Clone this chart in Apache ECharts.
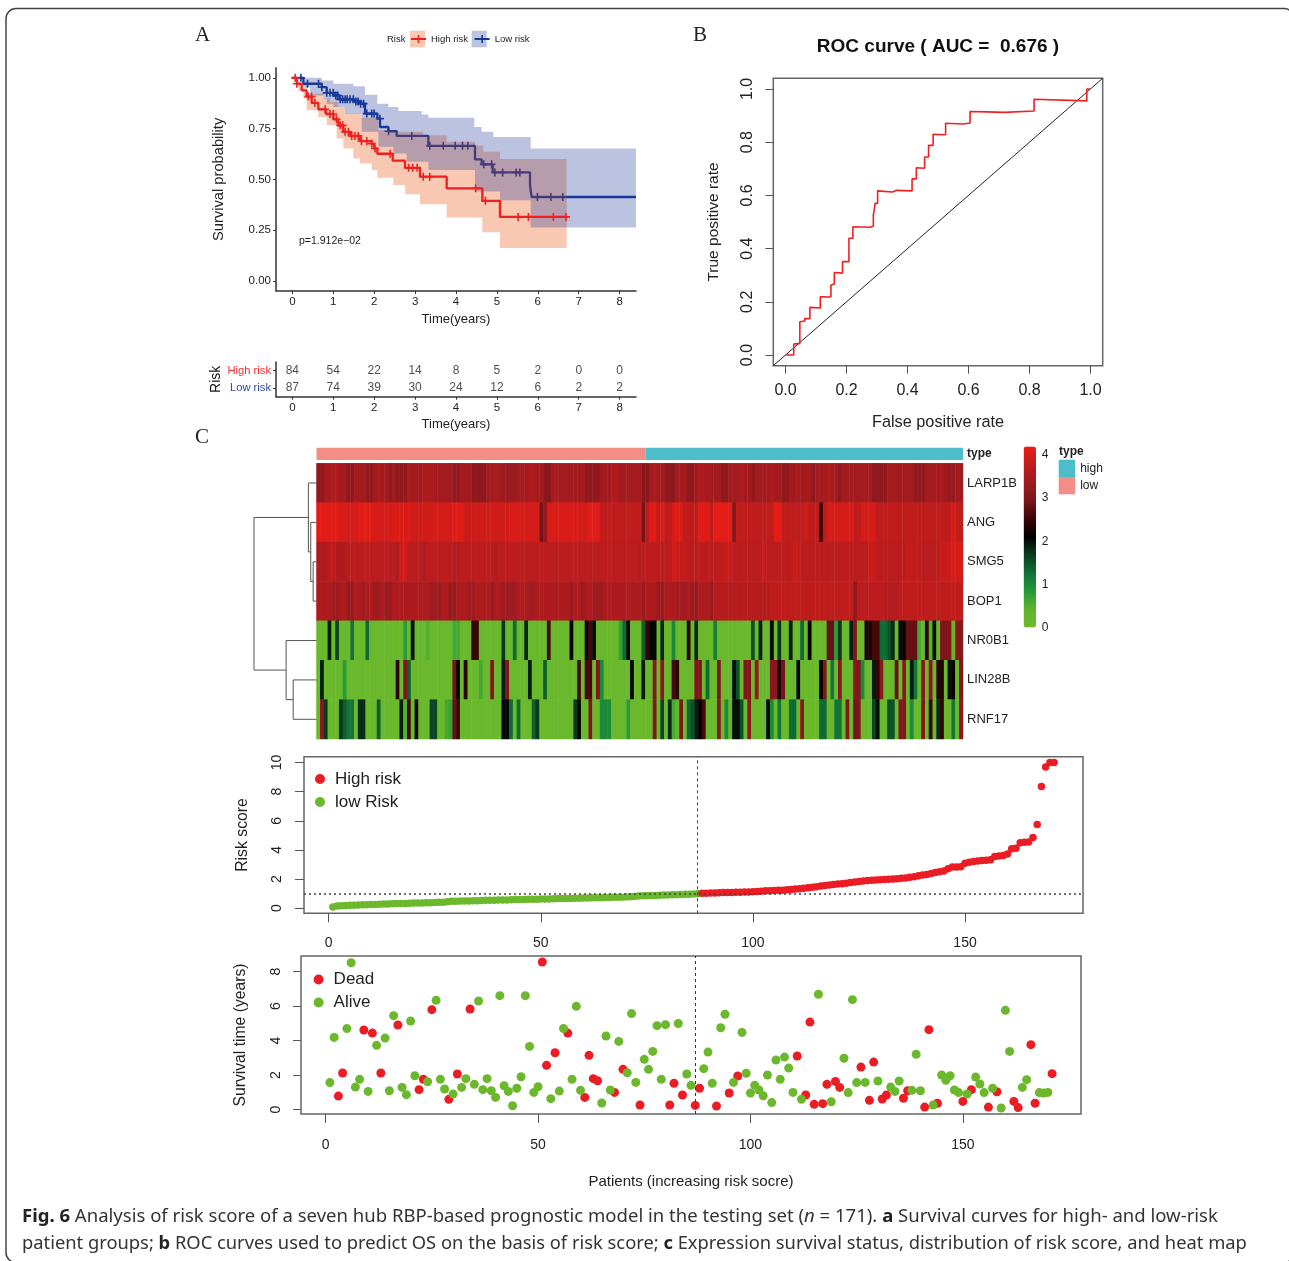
<!DOCTYPE html>
<html><head><meta charset="utf-8"><style>html,body{margin:0;padding:0;background:#fff}#c{width:1289px;height:1261px}</style>
<script src="https://cdn.jsdelivr.net/npm/echarts@6/dist/echarts.min.js"></script></head>
<body><div id="c"></div>
<script>
// ---------- Panel A: Kaplan-Meier ----------
const highT=[0,.106,.228,.35,.473,.635,.823,1.002,1.124,1.246,1.409,1.654,1.939,1.996,2.077,2.452,2.754,3.12,3.772,4.644,5.075,6.705];
const highS=[1,.971,.938,.908,.877,.845,.822,.796,.766,.734,.714,.688,.676,.652,.626,.592,.557,.513,.456,.394,.315,.315];
const lowT=[0,.269,.717,.839,1.002,1.165,1.491,1.654,1.776,2.077,2.143,2.346,2.55,3.324,4.464,4.627,4.896,5.809,5.849,8.399];
const lowS=[1,.971,.954,.926,.913,.894,.884,.873,.824,.799,.758,.737,.714,.665,.598,.574,.534,.472,.413,.413];
const highUpT=[0,.187,.35,.758,.921,1.124,1.287,1.695,2.102,2.468,3.202,3.772,4.464,4.668,5.075,6.705];
const highUpS=[1,.954,.922,.9,.881,.856,.827,.804,.742,.734,.717,.685,.665,.636,.6,.6];
const highLoT=[0,.147,.269,.35,.635,.839,1.083,1.246,1.491,1.654,1.939,2.077,2.468,2.754,3.12,3.772,4.644,5.075,6.705];
const highLoS=[1,.938,.897,.84,.807,.766,.701,.652,.603,.578,.546,.508,.472,.426,.377,.312,.24,.162,.162];
const lowUpT=[0,.717,1.002,1.491,1.776,2.077,2.346,2.591,3.161,3.324,4.448,4.627,4.912,5.825,8.399];
const lowUpS=[1,.987,.971,.959,.917,.873,.856,.837,.82,.804,.758,.735,.709,.652,.652];
const lowLoT=[0,.269,.432,.758,.839,1.002,1.287,1.695,2.102,2.468,2.794,3.324,4.464,5.075,5.825,8.399];
const lowLoS=[1,.954,.913,.897,.873,.856,.824,.734,.66,.627,.587,.546,.44,.397,.263,.263];
const highCensor=[.07,.11,.39,.47,.55,.8,.92,1,1.08,1.17,1.23,1.29,1.37,1.45,1.53,1.61,1.69,1.82,1.94,2.02,2.39,2.84,2.94,3.05,3.2,3.36,4.48,4.72,5.52,5.77,6.38,6.69];
const lowCensor=[.21,.37,.64,.72,.84,.92,1,1.06,1.11,1.17,1.23,1.29,1.34,1.41,1.49,1.55,1.61,1.67,1.74,1.82,1.94,2,2.14,2.35,2.92,3.36,3.69,3.98,4.16,4.29,4.68,4.87,4.95,5.14,5.47,5.56,5.99,6.32,6.61];
const yearTicks=[0,1,2,3,4,5,6,7,8];
const survTicks=[0,.25,.5,.75,1];
const riskRows=['High risk','Low risk'];
const highAtRisk=[84,54,22,14,8,5,2,0,0];
const lowAtRisk=[87,74,39,30,24,12,6,2,2];
// ---------- Panel B: ROC ----------
const fpr=[0,.027,.027,.047,.047,.063,.063,.08,.08,.114,.114,.149,.149,.16,.16,.187,.187,.208,.208,.221,.221,.277,.288,.288,.294,.294,.302,.302,.351,.364,.415,.415,.429,.429,.456,.456,.469,.469,.484,.484,.525,.525,.583,.585,.605,.605,.66,.717,.72,.815,.815,.988,.988,.999];
const tpr=[0,0,.041,.044,.125,.128,.137,.137,.179,.177,.219,.218,.263,.267,.31,.308,.351,.351,.439,.439,.482,.48,.484,.526,.529,.57,.57,.617,.613,.619,.617,.662,.662,.704,.702,.744,.744,.788,.788,.83,.828,.871,.868,.872,.872,.915,.914,.912,.919,.917,.961,.955,1,1];
const rocTicks=[0,.2,.4,.6,.8,1];
const diagonal=[-.04,1.04];
// ---------- Panel C: heat map; each run is [first column, last column, expression] ----------
const genes=['LARP1B','ANG','SMG5','BOP1','NR0B1','LIN28B','RNF17'];
const geneBase=[3.42,3.75,3.7,3.55,.15,.15,.15];
const larp1bRuns=[[0,1,3.2],[4,5,3.55],[8,9,3.2],[13,14,3.2],[16,16,3.55],[19,19,3.2],[21,23,3.2],[24,24,3.55],[28,30,3.55],[36,37,3.2],[41,44,3.15],[47,47,3.55],[49,52,3.3],[56,57,3.55],[60,60,3.1],[61,61,3.05],[63,63,3.55],[71,74,3.2],[78,79,3.55],[86,87,3.1],[89,89,3.55],[92,93,3.2],[94,94,3.1],[98,99,3.2],[101,102,3.55],[107,108,3.2],[112,112,3.55],[115,115,3.2],[120,120,3.55],[123,124,3.2],[131,131,3.2],[135,135,3.55],[138,138,3.2],[147,150,3.2],[158,160,3.2],[165,165,3.55],[167,168,3.25]];
const angRuns=[[0,1,4.1],[2,5,4.05],[6,10,3.95],[11,14,4.05],[15,19,3.95],[20,24,4.0],[25,30,3.9],[31,35,3.95],[36,38,4.05],[39,41,3.85],[42,50,3.9],[51,53,4.0],[54,58,3.95],[59,59,2.9],[60,60,3.2],[61,61,3.95],[62,67,4.0],[68,71,3.95],[72,74,4.05],[75,85,3.75],[86,86,2.9],[87,87,3.7],[88,89,4.05],[91,91,4.0],[94,96,4.0],[101,103,4.05],[105,109,4.1],[110,110,3.05],[121,122,4.1],[129,129,3.9],[133,133,2.5],[135,141,3.95],[144,147,3.95],[168,168,4.0]];
const smg5Runs=[[0,2,3.55],[5,7,3.55],[21,21,3.55],[22,23,3.9],[28,28,3.55],[36,37,3.6],[47,47,3.6],[85,85,3.6],[94,94,3.95],[95,97,3.8],[107,109,3.8],[118,118,3.85],[126,127,3.85],[146,147,3.85],[156,158,3.8],[165,167,3.85],[168,170,3.95]];
const bop1Runs=[[4,5,3.35],[8,9,3.25],[12,12,3.35],[15,16,3.35],[18,19,3.3],[30,32,3.35],[35,36,3.25],[40,41,3.35],[46,46,3.3],[49,52,3.35],[56,57,3.4],[67,67,3.3],[70,70,3.3],[73,75,3.35],[86,86,3.3],[90,91,3.3],[95,97,3.4],[99,100,3.3],[104,104,3.3],[105,119,3.65],[120,141,3.75],[142,142,3.15],[143,149,3.7],[150,153,3.6],[154,170,3.75]];
const nr0b1Runs=[[3,3,1.9],[5,5,1.6],[9,9,1.2],[13,13,1.3],[23,23,.8],[25,25,2.0],[29,29,.5],[36,37,.6],[41,42,2.5],[49,49,1.7],[52,52,1.3],[55,55,1.8],[61,61,2.6],[67,67,2.1],[71,71,2.2],[72,72,2.6],[73,73,2.0],[80,80,.7],[81,81,1.3],[82,82,2.05],[86,86,1.4],[87,87,2.5],[88,89,2.05],[91,91,1.8],[94,94,1.0],[98,98,2.4],[100,100,1.8],[105,105,1.1],[115,115,1.5],[117,117,1.9],[120,120,2.05],[122,122,1.7],[125,125,1.9],[128,128,1.3],[130,130,2.2],[135,136,2.8],[137,137,.8],[138,138,1.7],[141,141,1.9],[142,142,3.0],[145,146,2.3],[147,148,2.6],[149,150,1.3],[151,151,1.5],[152,152,1.8],[154,155,2.1],[156,158,2.8],[159,159,.6],[161,161,2.4],[162,162,.5],[163,163,2.0],[165,167,3.0],[168,168,.3],[169,170,3.1]];
const lin28bRuns=[[1,1,1.9],[7,7,.8],[21,21,2.4],[23,23,3.0],[24,24,1.4],[36,36,2.9],[37,37,2.1],[39,39,2.4],[43,43,.6],[46,46,3.0],[49,49,1.9],[50,50,3.0],[56,56,1.9],[60,60,1.4],[69,69,2.6],[71,72,2.6],[74,74,3.0],[75,75,1.0],[83,83,2.05],[86,86,1.9],[89,89,3.1],[91,91,3.1],[94,94,2.6],[95,95,2.4],[100,101,3.0],[103,103,1.3],[106,106,3.0],[110,110,2.0],[111,111,1.5],[113,114,3.0],[116,116,3.2],[120,121,3.1],[122,122,2.3],[123,123,2.9],[127,127,2.1],[133,133,2.1],[134,134,3.0],[136,136,1.2],[138,138,3.1],[142,142,3.1],[143,143,3.0],[144,144,1.0],[147,147,1.9],[148,148,2.5],[149,149,3.1],[153,153,2.8],[155,155,3.1],[157,157,1.9],[158,158,1.2],[160,160,3.1],[162,162,3.1],[164,164,2.4],[165,165,2.3],[167,167,2.0],[168,168,2.2],[170,170,3.0]];
const rnf17Runs=[[1,1,3.1],[2,2,1.7],[6,6,1.7],[7,7,1.4],[8,9,1.2],[11,12,1.8],[16,16,1.4],[22,22,1.9],[23,23,.5],[24,24,2.6],[26,26,2.0],[30,31,1.6],[34,34,.6],[35,35,.7],[36,36,2.8],[37,37,2.5],[49,50,2.05],[51,51,1.3],[53,53,1.3],[57,57,1.4],[58,58,1.7],[68,68,1.7],[69,69,2.05],[72,72,3.0],[75,77,1.0],[82,82,.8],[89,89,3.0],[91,91,1.6],[93,93,1.8],[94,94,.6],[95,95,.4],[96,96,3.0],[98,98,1.3],[99,99,1.5],[100,100,1.9],[101,101,2.1],[102,102,2.6],[106,106,3.1],[108,108,1.0],[110,111,2.0],[112,112,1.5],[114,114,3.1],[119,119,2.05],[120,120,1.0],[122,122,1.2],[125,126,1.3],[128,128,3.1],[133,134,1.3],[137,138,1.2],[140,140,3.0],[142,142,2.9],[143,143,3.0],[147,147,1.6],[148,148,2.0],[151,152,1.5],[154,155,3.0],[157,157,1.0],[160,160,3.0],[162,162,2.5],[164,164,1.8],[165,165,2.4],[168,168,1.2],[170,170,3.1]];
const geneRuns=[larp1bRuns,angRuns,smg5Runs,bop1Runs,nr0b1Runs,lin28bRuns,rnf17Runs];
const patientCount=171;
const lowGroupSize=[87];
const highGroupSize=[84];
const heatTicks=[0,1,2,3,4];
const heatColors=['#70b92b','#5fb52d','#249a39','#107036','#0a3d20','#000000','#3a0506','#7a1519','#9e1b20','#c01c1c','#ee1c14'];
// Dendrogram merges: height, row span, child heights
const mergeHeight=[.054,.092,.13,.373,.486,1];
const mergeRowA=[2.5,1.5,.5,5.5,4.5,1.375];
const mergeRowB=[3.5,3,2.25,6.5,6,5.25];
const mergeChildA=[0,0,0,0,0,.13];
const mergeChildB=[0,.054,.092,0,.373,.486];
// ---------- Risk score ----------
const riskScore=[.08,.15,.17,.18,.2,.21,.22,.23,.24,.25,.26,.27,.28,.29,.3,.32,.33,.33,.34,.35,.35,.36,.37,.38,.39,.4,.41,.44,.47,.48,.49,.5,.5,.51,.52,.53,.54,.55,.55,.56,.57,.57,.58,.59,.59,.6,.61,.62,.62,.63,.64,.64,.65,.66,.66,.67,.67,.68,.69,.7,.7,.71,.72,.72,.73,.74,.75,.75,.76,.77,.78,.8,.83,.85,.86,.87,.88,.89,.9,.91,.92,.93,.94,.95,.96,.98,1,
1.02,1.03,1.04,1.05,1.06,1.07,1.08,1.08,1.09,1.1,1.11,1.12,1.13,1.15,1.17,1.19,1.2,1.22,1.23,1.24,1.26,1.28,1.31,1.34,1.37,1.4,1.44,1.48,1.53,1.56,1.6,1.63,1.66,1.68,1.72,1.76,1.8,1.83,1.87,1.9,1.92,1.93,1.95,1.97,1.99,2.01,2.03,2.05,2.08,2.12,2.16,2.22,2.28,2.32,2.38,2.45,2.5,2.55,2.7,2.82,2.83,2.84,3.08,3.15,3.2,3.24,3.27,3.3,3.32,3.55,3.58,3.62,3.72,4.08,4.12,4.5,4.52,4.55,4.85,5.75,8.35,9.7,10,10];
const patientTicks=[0,50,100,150];
const scoreTicks=[0,2,4,6,8,10];
const cutPatient=[87];
const cutScore=[1];
// ---------- Survival time; status 1 = dead, 0 = alive ----------
const survTime=[1.57,4.19,.79,2.13,4.7,8.52,1.31,1.76,4.62,1.06,4.44,3.73,2.13,4.15,1.1,5.45,4.91,1.29,.87,5.14,1.97,1.16,1.76,1.62,5.8,6.34,1.76,1.2,.6,.91,2.07,1.29,1.8,5.84,1.47,6.3,1.16,1.8,1.1,.71,6.61,1.39,1.06,.23,1.24,1.91,6.61,3.67,1,1.33,8.56,2.57,.64,3.3,1.08,4.71,4.44,1.76,5.99,1.12,.71,3.15,1.8,1.68,.39,4.27,1.14,1,3.96,2.34,2.14,5.57,1.58,.27,2.92,2.34,3.38,4.87,1.76,4.93,.27,1.53,5,.85,2.07,1.41,.25,1.24,2.38,3.34,1.53,.21,4.75,5.53,.97,1.58,1.95,4.48,2.11,.97,1.41,1.14,.81,2.01,.41,2.88,1.76,3.05,2.42,1,3.11,.6,.85,5.08,.31,6.69,.35,1.47,.46,1.64,1.29,2.98,.99,6.38,1.57,2.47,1.58,.54,2.76,1.66,.62,.85,1.31,1.06,1.66,.66,1.1,1.12,3.21,1.1,.15,4.64,.27,.37,2.01,1.7,1.97,1.14,.99,.48,.91,1.16,1.89,1.49,.99,.15,1.24,1.04,.1,5.76,3.38,.48,.12,1.29,1.74,3.77,.37,.99,.97,1,2.09];
const survStatus=[0,0,1,1,0,0,0,0,1,0,1,0,1,0,0,0,1,0,0,0,0,1,1,0,1,0,0,0,1,0,1,0,0,1,0,0,0,0,0,0,0,0,0,0,0,0,0,0,0,0,1,1,0,1,0,0,1,0,0,0,1,1,1,1,0,0,0,1,0,1,0,0,0,1,0,0,0,0,0,0,1,1,0,1,0,0,1,1,0,0,0,1,0,0,1,0,1,0,0,0,0,0,0,0,0,0,0,0,0,0,1,0,1,1,1,0,1,1,0,1,1,0,0,0,0,1,0,1,1,0,1,1,0,0,0,1,1,0,0,0,1,1,0,1,0,0,0,0,0,1,0,1,0,0,0,1,0,1,0,0,0,1,1,0,0,1,1,0,0,0,1];
const survTimeTicks=[0,2,4,6,8];

// ---------- Derived marks ----------
const RED='#ec1c24',GREEN='#6cb82c',KM_RED='#ee2020',KM_BLUE='#123a9a';
const SANS='"Liberation Sans"',INK='#222';
const PLUS='path://M3.2 0H4.8V3.2H8V4.8H4.8V8H3.2V4.8H0V3.2H3.2Z';
const zip=(a,b)=>a.map((v,i)=>[v,b[i]]);
const survAt=(t,T,S)=>{let k=0;T.forEach((v,i)=>{if(v<=t)k=i;});return S[k];};
const stepPoints=(T,S)=>{const out=[];T.forEach((t,i)=>{if(i)out.push([t,S[i-1]]);out.push([t,S[i]]);});return out;};
const bandPoints=(uT,uS,lT,lS)=>stepPoints(uT,uS).concat(stepPoints(lT,lS).reverse());
const heatData=[];
genes.forEach((g,r)=>{
  const row=new Array(patientCount).fill(geneBase[r]);
  geneRuns[r].forEach(([a,b,v])=>{for(let c=a;c<=b;c++)row[c]=v;});
  row.forEach((v,c)=>heatData.push([c,r,v]));
});
const patientIds=Array.from({length:patientCount},(_,i)=>String(i+1));
const scorePts=riskScore.map((v,i)=>[i+1,v]);
const survPts=survTime.map((v,i)=>[i+1,v,survStatus[i]]);
const axisCommon=(extra)=>Object.assign({type:'value',splitLine:{show:false},axisLine:{show:false,onZero:false}},extra);
const rAxis=(min,max,ticks,grid,label,tick,extra)=>axisCommon(Object.assign({gridIndex:grid,min,max,
  axisTick:{show:true,length:tick,customValues:ticks,lineStyle:{color:'#555',width:1}},
  axisLabel:Object.assign({customValues:ticks,color:INK,fontFamily:SANS},label)},extra));
const hidden=(grid,extra)=>Object.assign({type:'value',gridIndex:grid,show:false,splitLine:{show:false}},extra);
const band=(name,pts,fill,z)=>({type:'custom',name,coordinateSystem:'cartesian2d',xAxisIndex:0,yAxisIndex:0,z,silent:true,data:[[0,1]],
  renderItem:(p,api)=>({type:'polygon',shape:{points:pts.map(q=>api.coord(q))},style:{fill}})});

const option={
  animation:false,
  textStyle:{fontFamily:SANS,color:INK},
  title:[
    {text:'ROC curve ( AUC =  0.676 )',padding:0,left:938,top:37.5,textAlign:'center',textStyle:{fontFamily:SANS,fontWeight:'bold',fontSize:19,color:'#111'}},
    {text:'Patients (increasing risk socre)',padding:0,left:691,top:1174,textAlign:'center',textStyle:{fontFamily:SANS,fontWeight:'normal',fontSize:15,color:INK}}
  ],
  grid:[
    {left:276,top:67.7,width:360,height:223.3},
    {left:276,top:362,width:360,height:34.7},
    {left:773.3,top:78.3,width:329.4,height:287.4,show:true,borderColor:'#666',borderWidth:1.5},
    {left:316.5,top:447.7,width:646.5,height:12.3},
    {left:316.5,top:463.3,width:646.5,height:275.7},
    {left:254,top:463.3,width:62.5,height:275.7},
    {left:1024.3,top:446.7,width:12.4,height:181},
    {left:304,top:756.7,width:779,height:156.6,show:true,borderColor:'#666',borderWidth:1.5},
    {left:301,top:956,width:780,height:158,show:true,borderColor:'#666',borderWidth:1.5}
  ],
  xAxis:[
    axisCommon({gridIndex:0,min:-.4,max:8.4,axisLine:{show:true,onZero:false,lineStyle:{color:'#333',width:1.5}},
      axisTick:{show:true,length:3,customValues:yearTicks,lineStyle:{color:'#333'}},axisLabel:{customValues:yearTicks,fontSize:11.5,margin:5,color:INK},
      name:'Time(years)',nameLocation:'middle',nameGap:22,nameTextStyle:{fontSize:13,color:INK}}),
    axisCommon({gridIndex:1,min:-.4,max:8.4,axisLine:{show:true,onZero:false,lineStyle:{color:'#333',width:1.5}},
      axisTick:{show:true,length:3,customValues:yearTicks,lineStyle:{color:'#333'}},axisLabel:{customValues:yearTicks,fontSize:11.5,margin:5,color:INK},
      name:'Time(years)',nameLocation:'middle',nameGap:21,nameTextStyle:{fontSize:13,color:INK}}),
    rAxis(-.04,1.04,rocTicks,2,{fontSize:16,margin:17,formatter:v=>v.toFixed(1)},8,{name:'False positive rate',nameLocation:'middle',nameGap:49,nameTextStyle:{fontSize:16.3,color:INK}}),
    hidden(3,{min:0,max:patientCount}),
    {type:'category',gridIndex:4,data:patientIds,show:false},
    hidden(5,{min:0,max:1,inverse:true}),
    hidden(6,{min:0,max:1}),
    rAxis(-5.8,177.8,patientTicks,7,{fontSize:14,margin:23},9),
    rAxis(-5.8,177.8,patientTicks,8,{fontSize:14,margin:24},9)
  ],
  yAxis:[
    axisCommon({gridIndex:0,min:-.05,max:1.05,axisLine:{show:true,onZero:false,lineStyle:{color:'#333',width:1.5}},
      axisTick:{show:true,length:3,customValues:survTicks,lineStyle:{color:'#333'}},axisLabel:{customValues:survTicks,fontSize:11.5,margin:5,color:INK,formatter:v=>v.toFixed(2)},
      name:'Survival probability',nameLocation:'middle',nameGap:50,nameTextStyle:{fontSize:14.7,color:INK}}),
    {type:'category',gridIndex:1,data:riskRows,inverse:true,axisLine:{show:true,onZero:false,lineStyle:{color:'#333',width:1.5}},
      axisTick:{show:true,length:3,alignWithLabel:true,lineStyle:{color:'#333'}},
      axisLabel:{fontSize:11.2,margin:5,color:p=>p==='High risk'?'#f03030':'#2b4ca8'},
      name:'Risk',nameLocation:'middle',nameGap:49,nameTextStyle:{fontSize:14,color:'#111'}},
    rAxis(-.04,1.04,rocTicks,2,{fontSize:16,margin:18,rotate:90,formatter:v=>v.toFixed(1)},8,{name:'True positive rate',nameLocation:'middle',nameGap:52,nameTextStyle:{fontSize:15.5,color:INK}}),
    {type:'category',gridIndex:3,data:['type'],position:'right',axisLine:{show:false},axisTick:{show:false},axisLabel:{margin:4,fontSize:12,fontWeight:'bold',color:INK}},
    {type:'category',gridIndex:4,data:genes,inverse:true,position:'right',axisLine:{show:false},axisTick:{show:false},axisLabel:{margin:4,fontSize:13,color:INK}},
    hidden(5,{min:0,max:7,inverse:true}),
    axisCommon({gridIndex:6,min:0,max:4.185,position:'right',axisTick:{show:false},axisLabel:{customValues:heatTicks,fontSize:12,margin:5,color:INK}}),
    rAxis(-.35,10.4,scoreTicks,7,{fontSize:14,margin:20,rotate:90},9,{name:'Risk score',nameLocation:'middle',nameGap:53,nameTextStyle:{fontSize:15.8,color:INK}}),
    rAxis(-.25,8.91,survTimeTicks,8,{fontSize:14,margin:18,rotate:90},8,{name:'Survival time (years)',nameLocation:'middle',nameGap:52,nameTextStyle:{fontSize:15.7,color:INK}})
  ],
  visualMap:{type:'continuous',seriesIndex:9,min:0,max:4.185,left:1008.6,top:431.4,itemWidth:12.4,itemHeight:181,borderRadius:0,calculable:false,hoverLink:false,realtime:false,inRange:{color:heatColors},textStyle:{color:INK}},
  legend:[
    {selectedMode:false,padding:0,left:410,top:34,itemWidth:15,itemHeight:10,itemGap:5.7,data:['High risk','Low risk'],textStyle:{fontSize:9.5,color:INK}},
    {selectedMode:false,padding:0,orient:'vertical',left:1058.7,top:459.7,itemWidth:16.5,itemHeight:17.3,itemGap:0,data:[{name:'high',icon:'rect'},{name:'low',icon:'rect'}],textStyle:{fontSize:12,color:INK}},
    {selectedMode:false,padding:0,orient:'vertical',left:315,top:770.5,itemWidth:20,itemHeight:10,itemGap:6,data:[{name:'High risk',icon:'circle',itemStyle:{color:RED}},{name:'low Risk',icon:'circle',itemStyle:{color:GREEN}}],textStyle:{fontSize:17,color:INK}},
    {selectedMode:false,padding:0,orient:'vertical',left:313.6,top:971,itemWidth:20,itemHeight:10,itemGap:6,data:[{name:'Dead',icon:'circle'},{name:'Alive',icon:'circle'}],textStyle:{fontSize:17,color:INK}}
  ],
  series:[
    band('High CI',bandPoints(highUpT,highUpS,highLoT,highLoS),'rgba(232,72,0,0.3)',2),     //0
    band('Low CI',bandPoints(lowUpT,lowUpS,lowLoT,lowLoS),'rgba(32,55,155,0.3)',3),         //1
    {type:'line',name:'High risk',xAxisIndex:0,yAxisIndex:0,z:4,step:'end',showSymbol:false,symbol:PLUS,data:zip(highT,highS),lineStyle:{color:KM_RED,width:2.3},itemStyle:{color:KM_RED}}, //2
    {type:'line',name:'Low risk',xAxisIndex:0,yAxisIndex:0,z:1,step:'end',showSymbol:false,symbol:PLUS,data:zip(lowT,lowS),lineStyle:{color:KM_BLUE,width:2.3},itemStyle:{color:KM_BLUE}}, //3
    {type:'scatter',name:'High censored',xAxisIndex:0,yAxisIndex:0,z:4,symbol:PLUS,symbolSize:8,data:highCensor.map(t=>[t,survAt(t,highT,highS)]),itemStyle:{color:KM_RED,opacity:1}}, //4
    {type:'scatter',name:'Low censored',xAxisIndex:0,yAxisIndex:0,z:1,symbol:PLUS,symbolSize:8,data:lowCensor.map(t=>[t,survAt(t,lowT,lowS)]),itemStyle:{color:KM_BLUE,opacity:1}},  //5
    {type:'scatter',name:'High at risk',xAxisIndex:1,yAxisIndex:1,symbolSize:0,data:highAtRisk.map((n,i)=>[yearTicks[i],'High risk',n]),label:{show:true,position:'inside',fontSize:12,color:INK,formatter:p=>p.value[2]}}, //6
    {type:'scatter',name:'Low at risk',xAxisIndex:1,yAxisIndex:1,symbolSize:0,data:lowAtRisk.map((n,i)=>[yearTicks[i],'Low risk',n]),label:{show:true,position:'inside',fontSize:12,color:INK,formatter:p=>p.value[2]}},  //7
    {type:'line',name:'ROC',xAxisIndex:2,yAxisIndex:2,z:3,showSymbol:false,symbol:'none',data:zip(fpr,tpr),lineStyle:{color:'#f02020',width:1.6}}, //8
    {type:'heatmap',name:'Expression',xAxisIndex:4,yAxisIndex:4,data:heatData,itemStyle:{borderWidth:0},progressive:0}, //9
    {type:'bar',name:'low',xAxisIndex:3,yAxisIndex:3,stack:'type',barWidth:'100%',data:lowGroupSize,itemStyle:{color:'#f28e86'}},
    {type:'bar',name:'high',xAxisIndex:3,yAxisIndex:3,stack:'type',barWidth:'100%',data:highGroupSize,itemStyle:{color:'#4dbdc9'}},
    {type:'custom',name:'Dendrogram',coordinateSystem:'cartesian2d',xAxisIndex:5,yAxisIndex:5,silent:true,
      data:mergeHeight.map((h,i)=>[h,mergeRowA[i],mergeRowB[i],mergeChildA[i],mergeChildB[i]]),
      renderItem:(p,api)=>{const h=api.value(0),a=api.value(1),b=api.value(2),ca=api.value(3),cb=api.value(4);
        return {type:'polyline',shape:{points:[api.coord([ca,a]),api.coord([h,a]),api.coord([h,b]),api.coord([cb,b])]},style:{stroke:'#555',lineWidth:1,fill:'none'}};}},
    {type:'scatter',name:'low Risk',xAxisIndex:7,yAxisIndex:7,symbolSize:7.5,data:scorePts.slice(0,87),itemStyle:{color:GREEN,opacity:1}},
    {type:'scatter',name:'High risk',xAxisIndex:7,yAxisIndex:7,symbolSize:7.5,data:scorePts.slice(87),itemStyle:{color:RED,opacity:1},
      markLine:{silent:true,symbol:'none',label:{show:false},animation:false,data:[{xAxis:cutPatient[0],lineStyle:{type:[3,3],color:'#444',width:1}},{yAxis:cutScore[0],lineStyle:{type:[2,3],color:'#444',width:1.5}}]}},
    {type:'scatter',name:'Dead',xAxisIndex:8,yAxisIndex:8,symbolSize:9,data:survPts.filter(p=>p[2]===1),itemStyle:{color:RED,opacity:1},
      markLine:{silent:true,symbol:'none',label:{show:false},animation:false,data:[{xAxis:cutPatient[0],lineStyle:{type:[3,3],color:'#333',width:1}}]}},
    {type:'scatter',name:'Alive',xAxisIndex:8,yAxisIndex:8,symbolSize:9,data:survPts.filter(p=>p[2]===0),itemStyle:{color:GREEN,opacity:1}},
    {type:'line',name:'Chance',xAxisIndex:2,yAxisIndex:2,z:2,showSymbol:false,symbol:'none',data:zip(diagonal,diagonal),lineStyle:{color:'#222',width:1}}
  ],
  graphic:[
    {type:'rect',z:-1,silent:true,shape:{x:6,y:8.5,width:1288,height:1254,r:10},style:{fill:'none',stroke:'#444',lineWidth:1.5}},
    {type:'text',style:{text:'A',x:195,y:35,fill:'#222',font:'21px "Liberation Serif"',textVerticalAlign:'middle'}},
    {type:'text',style:{text:'B',x:693,y:35,fill:'#222',font:'21px "Liberation Serif"',textVerticalAlign:'middle'}},
    {type:'text',style:{text:'C',x:195,y:437,fill:'#222',font:'21px "Liberation Serif"',textVerticalAlign:'middle'}},
    {type:'text',style:{text:'Risk',x:387,y:39.5,fill:INK,font:'9.5px "Liberation Sans"',textVerticalAlign:'middle'}},
    {type:'rect',z:0,silent:true,shape:{x:410,y:30.7,width:15,height:16.6},style:{fill:'#f8c9b0'}},
    {type:'rect',z:0,silent:true,shape:{x:471.7,y:30.7,width:15,height:16.6},style:{fill:'#bcc3e1'}},
    {type:'text',style:{text:'p=1.912e\u221202',x:299,y:241,fill:INK,font:'10.5px "Liberation Sans"',textVerticalAlign:'middle'}},
    {type:'text',style:{text:'type',x:1059,y:451.7,fill:INK,font:'bold 12px "Liberation Sans"',textVerticalAlign:'middle'}},
    {type:'text',style:{x:22,y:1217,fill:'#333',font:'18.55px "Noto Sans"',textVerticalAlign:'middle',
      text:'{b|Fig. 6} Analysis of risk score of a seven hub RBP-based prognostic model in the testing set ({i|n} = 171). {b|a} Survival curves for high- and low-risk',
      rich:{b:{fontFamily:'Noto Sans',fontSize:18.55,fontWeight:'bold',fill:'#222'},i:{fontFamily:'Noto Sans',fontSize:18.55,fontStyle:'italic',fill:'#333'}}}},
    {type:'text',style:{x:22,y:1244,fill:'#333',font:'18.33px "Noto Sans"',textVerticalAlign:'middle',
      text:'patient groups; {b|b} ROC curves used to predict OS on the basis of risk score; {b|c} Expression survival status, distribution of risk score, and heat map',
      rich:{b:{fontFamily:'Noto Sans',fontSize:18.33,fontWeight:'bold',fill:'#222'}}}}
  ]
};
const chart=echarts.init(document.getElementById('c'),null,{renderer:'canvas',width:1289,height:1261});
chart.setOption(option);
</script></body></html>
